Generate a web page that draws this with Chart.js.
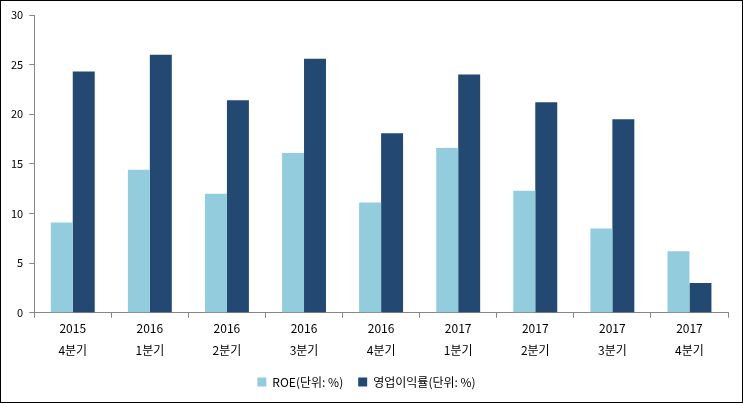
<!DOCTYPE html>
<html>
<head>
<meta charset="utf-8">
<script src="https://cdn.jsdelivr.net/npm/chart.js@4"></script>
<style>
  body { margin: 0; background: #fff; }
  #wrap { width: 741px; height: 401px; border: 1px solid #000; position: relative; }
</style>
</head>
<body>
<div id="wrap"><canvas id="chart"></canvas></div>
<script>
// quarters (two-line labels)
const years = ['2015','2016','2016','2016','2016','2017','2017','2017','2017'];
const quarters = ['4분기','1분기','2분기','3분기','4분기','1분기','2분기','3분기','4분기'];
const roe = [9.1, 14.4, 12.0, 16.1, 11.1, 16.6, 12.3, 8.5, 6.2];
const opMargin = [24.3, 26.0, 21.4, 25.6, 18.1, 24.0, 21.2, 19.5, 3.0];
const yTicks = [0, 5, 10, 15, 20, 25, 30];

const labels = years.map((y, i) => [y, quarters[i]]);
const axisColor = '#868686';
Chart.defaults.font.family = "'Noto Sans CJK KR', 'DejaVu Sans', sans-serif";
Chart.defaults.color = '#000';

new Chart(document.getElementById('chart'), {
  type: 'bar',
  data: {
    labels: labels,
    datasets: [
      { label: 'ROE(단위: %)', data: roe, backgroundColor: '#93CDDD' },
      { label: '영업이익률(단위: %)', data: opMargin, backgroundColor: '#234973' }
    ]
  },
  options: {
    responsive: true,
    maintainAspectRatio: false,
    animation: false,
    layout: { padding: { top: 14, right: 14, left: 4, bottom: 4 } },
    datasets: { bar: { categoryPercentage: 0.57, barPercentage: 1.0 } },
    plugins: {
      legend: {
        position: 'bottom',
        labels: { boxWidth: 9, boxHeight: 9, padding: 15, font: { size: 12 } }
      },
      tooltip: { enabled: false }
    },
    scales: {
      y: {
        min: 0, max: 30,
        afterBuildTicks: ax => { ax.ticks = yTicks.map(v => ({ value: v })); },
        border: { color: axisColor },
        grid: { drawOnChartArea: false, drawTicks: true, tickLength: 5, color: axisColor },
        ticks: { font: { size: 11 }, padding: 6 }
      },
      x: {
        border: { color: axisColor },
        grid: { drawOnChartArea: false, drawTicks: true, tickLength: 5, color: axisColor, offset: true },
        ticks: { font: { size: 12, lineHeight: 1.8 }, padding: 0, maxRotation: 0 }
      }
    }
  }
});
</script>
</body>
</html>
